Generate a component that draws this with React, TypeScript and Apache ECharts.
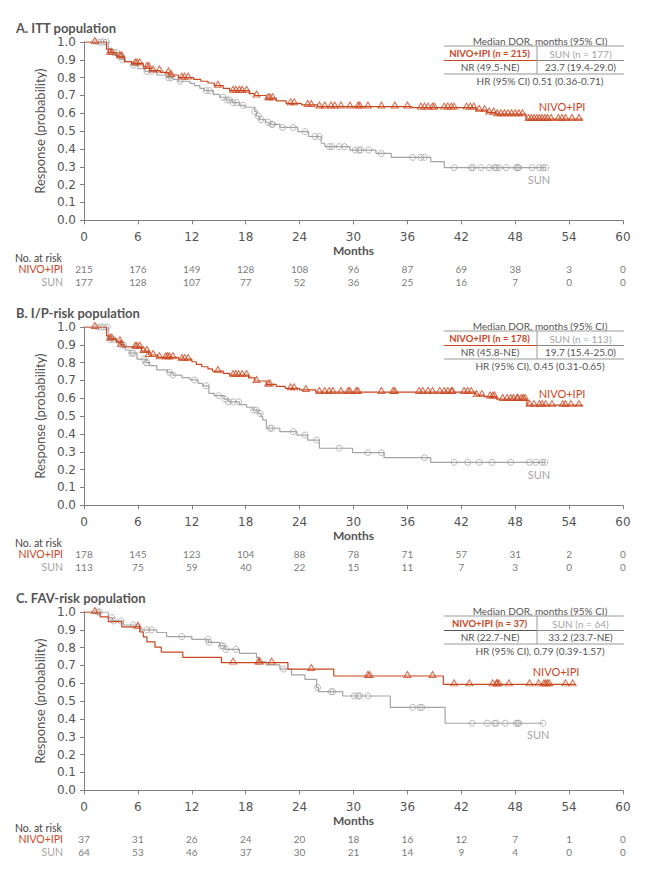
import React, { useEffect, useRef } from "react";
import * as echarts from "echarts";

const RED = "#C9471F";
const GRAY = "#A5A5A5";
const TEXT = "#555555";
const AXIS = "#808080";

const panelTitles = ["A. ITT population", "B. I/P-risk population", "C. FAV-risk population"];
const monthTicks = [0, 6, 12, 18, 24, 30, 36, 42, 48, 54, 60];
const riskRows = ["NIVO+IPI", "SUN"];

// ---- Panel A: ITT ----
const ittNivoSteps = [
  [0, 1], [2.5, 0.96], [2.7, 0.94], [3.6, 0.92], [4.5, 0.89], [5.3, 0.88], [6.6, 0.86], [7.3, 0.84],
  [8.5, 0.83], [9.5, 0.815], [10.5, 0.8], [12.2, 0.79], [13.0, 0.78], [13.8, 0.77], [14.5, 0.755],
  [15.5, 0.74], [16.2, 0.727], [18.4, 0.71], [19.0, 0.7], [20.3, 0.685], [21.4, 0.67], [22.5, 0.656],
  [24.2, 0.647], [26.0, 0.638], [36.5, 0.632], [43.6, 0.618], [44.8, 0.605], [45.8, 0.595],
  [49.2, 0.568], [55.5, 0.568],
];
const ittNivoCensor = [
  1.2, 2.9, 3.1, 4.0, 4.2, 5.7, 5.9, 6.2, 7.0, 7.2, 7.7, 8.4, 9.4, 9.7, 10.9, 11.2, 11.6, 14.9, 16.6,
  16.9, 17.3, 17.6, 18.1, 19.2, 20.5, 20.7, 21.0, 23.0, 23.4, 24.9, 25.3, 26.2, 26.8, 27.5, 27.9, 28.6,
  29.6, 30.5, 30.7, 31.6, 33.1, 34.6, 36.0, 37.5, 37.9, 38.3, 38.8, 39.0, 40.1, 40.5, 40.9, 41.2, 42.6,
  43.0, 43.4, 44.0, 44.6, 45.1, 45.6, 46.0, 46.4, 46.8, 47.2, 47.6, 48.0, 48.4, 48.8, 49.5, 49.8, 50.1,
  50.4, 50.7, 51.0, 51.3, 51.6, 52.0, 52.8, 53.2, 53.6, 54.3, 55.1,
];
const ittSunSteps = [
  [0, 1], [2.7, 0.96], [3.1, 0.94], [3.8, 0.92], [4.2, 0.9], [4.6, 0.89], [5.3, 0.87], [6.0, 0.85],
  [6.8, 0.835], [8.1, 0.815], [9.2, 0.8], [9.9, 0.79], [10.5, 0.78], [11.8, 0.768], [12.3, 0.755],
  [12.9, 0.74], [13.4, 0.727], [14.4, 0.706], [15.1, 0.69], [15.8, 0.675], [16.5, 0.66], [17.3, 0.645],
  [17.9, 0.634], [19.0, 0.61], [19.2, 0.585], [19.5, 0.565], [20.2, 0.55], [20.7, 0.538], [21.8, 0.521],
  [23.8, 0.497], [25.0, 0.47], [26.4, 0.432], [26.8, 0.413], [29.6, 0.394], [32.5, 0.375], [34.2, 0.353],
  [38.6, 0.329], [40.1, 0.295], [51.4, 0.295],
];
const ittSunCensor = [
  1.5, 1.9, 2.2, 2.5, 3.3, 3.6, 4.0, 4.3, 5.5, 7.0, 7.5, 9.4, 9.7, 10.7, 13.6, 14.0, 15.5, 15.9, 16.2,
  16.6, 17.0, 17.7, 19.0, 19.4, 19.7, 20.5, 20.9, 21.0, 22.1, 23.3, 24.6, 25.7, 26.2, 27.3, 27.6, 28.4,
  29.0, 30.2, 30.6, 30.8, 31.7, 33.1, 36.6, 37.5, 37.9, 41.2, 43.1, 43.3, 44.2, 45.1, 45.7, 45.9, 46.2,
  47.0, 48.1, 48.3, 48.4, 49.9, 50.7, 51.1, 51.4,
];
const ittRiskNivo = [215, 176, 149, 128, 108, 96, 87, 69, 38, 3, 0];
const ittRiskSun = [177, 128, 107, 77, 52, 36, 25, 16, 7, 0, 0];

// ---- Panel B: I/P-risk ----
const ipNivoSteps = [
  [0, 1], [2.5, 0.95], [2.8, 0.935], [3.6, 0.92], [4.1, 0.9], [4.4, 0.889], [6.4, 0.865], [7.2, 0.843],
  [8.2, 0.83], [10.5, 0.82], [12.0, 0.805], [12.5, 0.79], [13.1, 0.777], [13.8, 0.765], [14.3, 0.753],
  [15.5, 0.74], [16.2, 0.73], [18.3, 0.715], [19.0, 0.697], [20.3, 0.678], [21.4, 0.667], [22.4, 0.656],
  [24.0, 0.647], [25.8, 0.635], [43.6, 0.618], [44.5, 0.61], [45.9, 0.596], [49.3, 0.562], [55.5, 0.562],
];
const ipNivoCensor = [
  1.2, 2.9, 3.1, 4.0, 4.1, 5.7, 5.9, 6.2, 6.6, 7.0, 7.2, 7.7, 8.4, 9.1, 9.3, 9.5, 9.9, 10.9, 11.2, 11.6,
  14.9, 16.6, 16.9, 17.2, 17.6, 18.1, 19.2, 20.5, 20.7, 23.0, 23.4, 24.7, 26.2, 26.8, 27.3, 27.7, 28.6,
  29.4, 29.6, 30.3, 30.5, 33.1, 34.4, 34.6, 37.3, 37.7, 38.3, 38.8, 39.6, 40.1, 40.5, 40.9, 41.0, 42.3,
  42.7, 43.1, 43.7, 44.3, 45.2, 45.5, 45.7, 46.6, 47.1, 47.5, 47.8, 48.2, 48.3, 48.7, 48.9, 49.1, 49.6,
  50.1, 50.7, 51.0, 51.4, 52.1, 53.3, 53.6, 54.2, 55.1,
];
const ipSunSteps = [
  [0, 1], [2.7, 0.93], [3.6, 0.915], [4.0, 0.899], [4.6, 0.871], [5.1, 0.853], [5.9, 0.82], [6.9, 0.8],
  [7.3, 0.783], [8.1, 0.759], [9.3, 0.746], [9.9, 0.73], [10.9, 0.716], [11.8, 0.703], [12.7, 0.684],
  [13.2, 0.67], [13.9, 0.628], [14.5, 0.615], [15.6, 0.595], [16.1, 0.58], [17.3, 0.565], [18.1, 0.55],
  [18.8, 0.534], [19.4, 0.515], [19.7, 0.497], [19.9, 0.478], [20.3, 0.432], [21.8, 0.413], [23.7, 0.394],
  [24.9, 0.366], [26.2, 0.32], [29.9, 0.295], [33.4, 0.267], [38.6, 0.241], [51.4, 0.241],
];
const ipSunCensor = [
  1.5, 1.9, 2.2, 2.6, 2.9, 3.3, 4.2, 4.4, 5.3, 5.5, 6.7, 6.9, 7.0, 9.5, 9.9, 12.3, 13.6, 15.0, 15.7,
  16.1, 16.6, 17.2, 18.9, 19.2, 19.6, 20.7, 20.9, 23.3, 24.6, 25.9, 28.4, 31.6, 33.1, 37.9, 41.2, 42.7,
  44.0, 45.4, 47.5, 49.6, 50.3, 51.0, 51.3,
];
const ipRiskNivo = [178, 145, 123, 104, 88, 78, 71, 57, 31, 2, 0];
const ipRiskSun = [113, 75, 59, 40, 22, 15, 11, 7, 3, 0, 0];

// ---- Panel C: FAV-risk ----
const favNivoSteps = [
  [0, 1], [1.8, 0.973], [2.7, 0.946], [4.2, 0.917], [6.2, 0.888], [6.6, 0.86], [7.0, 0.832],
  [7.9, 0.803], [8.6, 0.775], [11.0, 0.746], [15.3, 0.716], [22.7, 0.68], [27.8, 0.641], [40.0, 0.594],
  [54.7, 0.594],
];
const favNivoCensor = [
  1.2, 6.0, 16.6, 19.4, 19.6, 20.9, 25.3, 31.6, 31.8, 36.0, 38.8, 41.2, 42.9, 45.5, 45.9, 46.0, 46.2,
  47.3, 49.6, 50.6, 51.2, 51.4, 51.6, 51.8, 53.6, 54.4,
];
const favSunSteps = [
  [0, 1], [2.7, 0.969], [3.2, 0.95], [4.4, 0.927], [6.2, 0.9], [8.1, 0.885], [9.2, 0.862], [12.0, 0.847],
  [13.85, 0.83], [15.1, 0.81], [15.7, 0.79], [17.3, 0.768], [19.2, 0.745], [19.5, 0.72], [20.3, 0.703],
  [21.8, 0.68], [23.1, 0.647], [24.6, 0.622], [25.9, 0.576], [26.1, 0.553], [28.8, 0.529], [34.1, 0.465],
  [40.2, 0.376], [51.1, 0.376],
];
const favSunCensor = [
  1.5, 1.7, 3.1, 3.3, 4.1, 5.5, 7.0, 7.5, 10.9, 13.8, 13.9, 15.3, 15.5, 15.8, 16.9, 22.2, 26.0, 27.5,
  27.7, 30.1, 30.5, 30.7, 31.6, 36.6, 37.4, 37.6, 43.2, 44.9, 45.7, 45.9, 46.9, 48.1, 48.3, 48.4, 51.1,
];
const favRiskNivo = [37, 31, 26, 24, 20, 18, 16, 12, 7, 1, 0];
const favRiskSun = [64, 53, 46, 37, 30, 21, 14, 9, 4, 0, 0];

// ---- Median DOR tables ----
const tableNivoHeads = ["NIVO+IPI (n = 215)", "NIVO+IPI (n = 178)", "NIVO+IPI (n = 37)"];
const tableSunHeads = ["SUN (n = 177)", "SUN (n = 113)", "SUN (n = 64)"];
const tableNivoMedians = ["NR (49.5-NE)", "NR (45.8-NE)", "NR (22.7-NE)"];
const tableSunMedians = ["23.7 (19.4-29.0)", "19.7 (15.4-25.0)", "33.2 (23.7-NE)"];
const tableHR = ["HR (95% CI) 0.51 (0.36-0.71)", "HR (95% CI), 0.45 (0.31-0.65)", "HR (95% CI), 0.79 (0.39-1.57)"];

const panels = [
  { nivo: ittNivoSteps, nivoC: ittNivoCensor, sun: ittSunSteps, sunC: ittSunCensor, rN: ittRiskNivo, rS: ittRiskSun },
  { nivo: ipNivoSteps, nivoC: ipNivoCensor, sun: ipSunSteps, sunC: ipSunCensor, rN: ipRiskNivo, rS: ipRiskSun },
  { nivo: favNivoSteps, nivoC: favNivoCensor, sun: favSunSteps, sunC: favSunCensor, rN: favRiskNivo, rS: favRiskSun },
];

function levelAt(steps: number[][], t: number): number {
  let s = steps[0][1];
  for (const [x, y] of steps) {
    if (x <= t) s = y;
    else break;
  }
  return s;
}

const LATO = "Lato, 'DejaVu Sans', sans-serif";
const DV = "'DejaVu Sans', sans-serif";

function txt(text: string, x: number, y: number, font: string, fill: string, align = "center") {
  return {
    type: "text",
    x,
    y,
    silent: true,
    style: { text, font, fill, align, verticalAlign: "middle", textAlign: align, textVerticalAlign: "middle" },
  };
}
function ln(x1: number, y1: number, x2: number, y2: number, stroke: string) {
  return { type: "line", silent: true, shape: { x1, y1, x2, y2 }, style: { stroke, lineWidth: 1 } };
}

function buildOption() {
  const grid: any[] = [];
  const xAxis: any[] = [];
  const yAxis: any[] = [];
  const series: any[] = [];
  const graphic: any[] = [];
  const PANEL = 285;

  panels.forEach((p, k) => {
    const o = PANEL * k;
    const gMain = 2 * k;
    const gRisk = 2 * k + 1;
    grid.push({ left: 84, right: 23, top: 42 + o, height: 178.3 });
    grid.push({ left: 84, right: 23, top: 262.75 + o, height: 25 });

    xAxis.push({
      gridIndex: gMain, type: "value", min: 0, max: 60, interval: 6, offset: 4,
      axisLine: { show: true, lineStyle: { color: AXIS, width: 1 } },
      axisTick: { show: true, length: 4, lineStyle: { color: AXIS } },
      axisLabel: { margin: 7, fontFamily: DV, fontSize: 12, color: TEXT },
      splitLine: { show: false },
      name: "Months", nameLocation: "middle", nameGap: 20,
      nameTextStyle: { fontFamily: LATO, fontSize: 12, fontWeight: "bold", color: TEXT },
    });
    xAxis.push({ gridIndex: gRisk, type: "value", min: 0, max: 60, show: false });

    yAxis.push({
      gridIndex: gMain, type: "value", min: 0, max: 1, interval: 0.1, offset: 3,
      axisLine: { show: true, lineStyle: { color: AXIS, width: 1 } },
      axisTick: { show: true, length: 4, lineStyle: { color: AXIS } },
      axisLabel: { margin: 5, fontFamily: DV, fontSize: 12, color: TEXT, formatter: (v: number) => v.toFixed(1) },
      splitLine: { show: false },
      name: "Response (probability)", nameLocation: "middle", nameGap: 34,
      nameTextStyle: { fontFamily: LATO, fontSize: 13, color: TEXT },
    });
    yAxis.push({
      gridIndex: gRisk, type: "category", data: riskRows, inverse: true,
      axisLine: { show: false }, axisTick: { show: false }, splitLine: { show: false },
      axisLabel: {
        show: true, interval: 0, hideOverlap: false,
        margin: 21, fontFamily: LATO, fontSize: 10.5,
        color: (v: string) => (v === "SUN" ? GRAY : RED),
      },
    });

    series.push({
      type: "line", xAxisIndex: gMain, yAxisIndex: gMain, data: p.sun, step: "end",
      showSymbol: false, symbol: "none", silent: true, z: 2,
      lineStyle: { color: GRAY, width: 1.2 },
    });
    series.push({
      type: "scatter", xAxisIndex: gMain, yAxisIndex: gMain, silent: true, z: 3,
      data: p.sunC.map((t) => [t, levelAt(p.sun, t)]),
      symbol: "circle", symbolSize: 6,
      itemStyle: { color: "rgba(0,0,0,0)", borderColor: GRAY, borderWidth: 1 },
    });
    series.push({
      type: "line", xAxisIndex: gMain, yAxisIndex: gMain, data: p.nivo, step: "end",
      showSymbol: false, symbol: "none", silent: true, z: 4,
      lineStyle: { color: RED, width: 1.2 },
    });
    series.push({
      type: "scatter", xAxisIndex: gMain, yAxisIndex: gMain, silent: true, z: 5,
      data: p.nivoC.map((t) => [t, levelAt(p.nivo, t)]),
      symbol: "triangle", symbolSize: [7, 6], symbolOffset: [0, -1.5],
      itemStyle: { color: "rgba(0,0,0,0)", borderColor: RED, borderWidth: 1 },
    });
    series.push({
      type: "scatter", xAxisIndex: gRisk, yAxisIndex: gRisk, silent: true,
      symbolSize: 1, itemStyle: { color: "rgba(0,0,0,0)" },
      data: [
        ...monthTicks.map((m, i) => [m, riskRows[0], p.rN[i]]),
        ...monthTicks.map((m, i) => [m, riskRows[1], p.rS[i]]),
      ],
      label: {
        show: true, position: "inside", formatter: (d: any) => String(d.value[2]),
        color: TEXT, fontFamily: LATO, fontSize: 10,
      },
    });

    // titles & annotations
    graphic.push(txt(panelTitles[k], 16, 28 + o, `bold 13px ${LATO}`, TEXT, "left"));
    graphic.push(txt("No. at risk", 15, 257.7 + o, `10.5px ${LATO}`, "#444", "left"));

    // Median DOR table
    const L = 444, R = 624, D = 537;
    graphic.push(txt("Median DOR, months (95% CI)", 540, 40.5 + o, `10px ${LATO}`, TEXT));
    graphic.push(ln(L, 46 + o, R, 46 + o, "#999"));
    graphic.push(txt(tableNivoHeads[k], 489.5, 53.7 + o, `bold 9.5px ${LATO}`, RED));
    graphic.push(txt(tableSunHeads[k], 580.5, 53.7 + o, `10px ${LATO}`, GRAY));
    graphic.push(ln(L, 60.5 + o, D, 60.5 + o, k === 2 ? "#555" : RED));
    graphic.push(ln(D, 60.5 + o, R, 60.5 + o, "#888"));
    graphic.push(txt(tableNivoMedians[k], 490, 67.3 + o, `10px ${LATO}`, TEXT));
    graphic.push(txt(tableSunMedians[k], 580.5, 67.3 + o, `10px ${LATO}`, TEXT));
    graphic.push(ln(L, 74 + o, R, 74 + o, "#999"));
    graphic.push(ln(D, 46 + o, D, 74 + o, "#999"));
    graphic.push(txt(tableHR[k], 540, 80.7 + o, `10px ${LATO}`, TEXT));
  });

  // curve labels
  graphic.push(txt("NIVO+IPI", 562, 106.7, `11px ${LATO}`, RED));
  graphic.push(txt("SUN", 539, 179, `11px ${LATO}`, GRAY));
  graphic.push(txt("NIVO+IPI", 562, 393.3, `11px ${LATO}`, RED));
  graphic.push(txt("SUN", 539, 474.3, `11px ${LATO}`, GRAY));
  graphic.push(txt("NIVO+IPI", 556, 671.7, `11px ${LATO}`, RED));
  graphic.push(txt("SUN", 538.3, 734, `11px ${LATO}`, GRAY));

  return {
    animation: false,
    backgroundColor: "#ffffff",
    grid, xAxis, yAxis, series, graphic,
  };
}

export default function App() {
  const ref = useRef<HTMLDivElement>(null);
  useEffect(() => {
    if (!ref.current) return;
    const chart = echarts.init(ref.current, undefined, { renderer: "svg" });
    chart.setOption(buildOption() as any);
    return () => chart.dispose();
  }, []);
  return (
    <div
      ref={ref}
      style={{ position: "fixed", left: 0, top: 0, width: 646, height: 877, background: "#fff" }}
    />
  );
}
